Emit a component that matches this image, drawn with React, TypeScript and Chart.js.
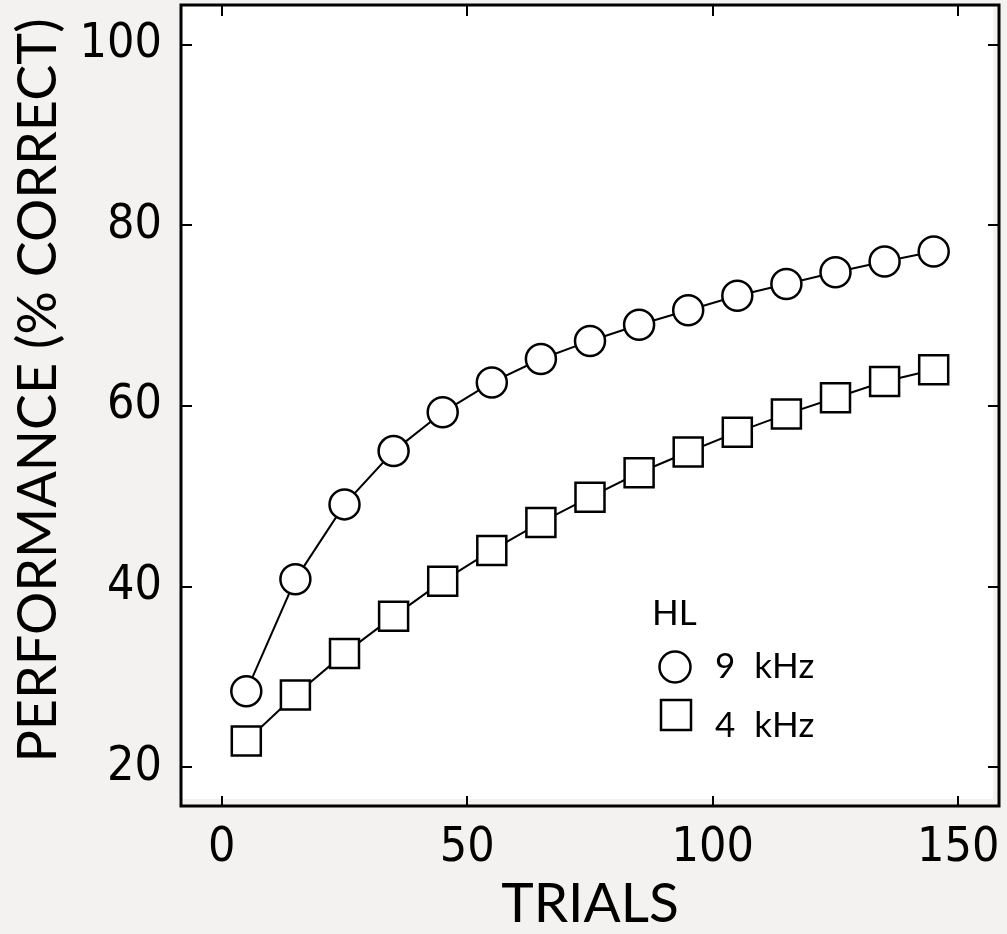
import React, { useEffect, useRef } from "react";
import { Chart, registerables } from "chart.js";

Chart.register(...registerables);

const trials = [5, 15, 25, 35, 45, 55, 65, 75, 85, 95, 105, 115, 125, 135, 145];
const perf9kHz = [28.4, 40.8, 49.1, 55.0, 59.3, 62.6, 65.2, 67.2, 69.0, 70.6, 72.2, 73.5, 74.8, 76.0, 77.1];
const perf4kHz = [22.9, 28.0, 32.6, 36.7, 40.6, 44.0, 47.1, 49.9, 52.6, 54.9, 57.1, 59.1, 60.9, 62.7, 64.0];
const xTicks = [0, 50, 100, 150];
const yTicks = [20, 40, 60, 80, 100];
const xTitle = "TRIALS";
const yTitle = "PERFORMANCE (% CORRECT)";
const legendTitle = "HL";
const seriesLabels = ["9 kHz", "4 kHz"];

const BG = "#f3f2f0";
const TICK_FONT = "'DejaVu Sans Condensed', 'DejaVu Sans', sans-serif";
const TITLE_FONT = "Lato, 'Open Sans', sans-serif";

const zeroPad = (scale: any) => {
  scale.paddingTop = 0;
  scale.paddingBottom = 0;
  scale.paddingLeft = 0;
  scale.paddingRight = 0;
};

const framePlugin = {
  id: "frame",
  beforeDraw(chart: any) {
    const { ctx, chartArea: a, width, height } = chart;
    ctx.save();
    ctx.fillStyle = BG;
    ctx.fillRect(0, 0, width, height);
    ctx.fillStyle = "#ffffff";
    ctx.fillRect(a.left, a.top, a.right - a.left - 6, a.bottom - a.top - 7);
    ctx.restore();
  },
  beforeDatasetsDraw(chart: any) {
    const { ctx, chartArea: a, scales } = chart;
    ctx.save();
    ctx.strokeStyle = "#000";
    ctx.lineWidth = 2;
    ctx.lineCap = "butt";
    for (const v of xTicks) {
      const px = Math.round(scales.x.getPixelForValue(v));
      ctx.beginPath();
      ctx.moveTo(px, a.bottom);
      ctx.lineTo(px, a.bottom - 10);
      ctx.moveTo(px, a.top);
      ctx.lineTo(px, a.top + 11);
      ctx.stroke();
    }
    for (const v of yTicks) {
      const py = Math.round(scales.y.getPixelForValue(v));
      ctx.beginPath();
      ctx.moveTo(a.left, py);
      ctx.lineTo(a.left + 11, py);
      ctx.moveTo(a.right, py);
      ctx.lineTo(a.right - 11, py);
      ctx.stroke();
    }
    ctx.lineWidth = 3;
    ctx.beginPath();
    ctx.rect(a.left, a.top, a.right - a.left, a.bottom - a.top);
    ctx.stroke();
    ctx.restore();
  },
  afterDraw(chart: any) {
    const { ctx, chartArea: a } = chart;
    // y-axis title
    ctx.save();
    ctx.fillStyle = "#000";
    ctx.font = `54px ${TITLE_FONT}`;
    ctx.textAlign = "center";
    ctx.textBaseline = "middle";
    ctx.translate(39, (a.top + a.bottom) / 2 - 15);
    ctx.rotate(-Math.PI / 2);
    ctx.fillText(yTitle, 0, 0);
    ctx.restore();

    // legend
    const lx = a.left + 471;
    const ly = a.top;
    ctx.save();
    ctx.fillStyle = "#000";
    ctx.textBaseline = "alphabetic";
    ctx.textAlign = "left";
    ctx.font = `35px ${TITLE_FONT}`;
    (ctx as any).wordSpacing = "10px";
    ctx.fillText(legendTitle, lx, ly + 620);
    ctx.fillText(seriesLabels[0], lx + 63, ly + 673);
    ctx.fillText(seriesLabels[1], lx + 63, ly + 732);
    ctx.strokeStyle = "#000";
    ctx.lineWidth = 2.5;
    ctx.fillStyle = "#fff";
    ctx.beginPath();
    ctx.arc(lx + 23, ly + 662, 15.5, 0, Math.PI * 2);
    ctx.fill();
    ctx.stroke();
    ctx.beginPath();
    ctx.rect(lx + 9, ly + 695, 30, 30);
    ctx.fill();
    ctx.stroke();
    ctx.restore();
  },
};

export default function App() {
  const ref = useRef<HTMLCanvasElement | null>(null);

  useEffect(() => {
    document.body.style.margin = "0";
    document.body.style.background = BG;
    const canvas = ref.current;
    if (!canvas) return;
    const chart = new Chart(canvas, {
      type: "line",
      data: {
        datasets: [
          {
            label: seriesLabels[0],
            data: trials.map((t, i) => ({ x: t, y: perf9kHz[i] })),
            borderColor: "#000",
            borderWidth: 2,
            pointStyle: "circle",
            pointRadius: 15,
            pointBorderWidth: 2.5,
            pointBackgroundColor: "#fff",
            pointBorderColor: "#000",
            tension: 0,
          },
          {
            label: seriesLabels[1],
            data: trials.map((t, i) => ({ x: t, y: perf4kHz[i] })),
            borderColor: "#000",
            borderWidth: 2,
            pointStyle: "rect",
            pointRadius: 20.5,
            pointBorderWidth: 2.5,
            pointBackgroundColor: "#fff",
            pointBorderColor: "#000",
            tension: 0,
          },
        ],
      },
      options: {
        animation: false,
        responsive: false,
        maintainAspectRatio: false,
        layout: { autoPadding: false, padding: { top: 5, right: 8, left: 0, bottom: 0 } },
        plugins: {
          legend: { display: false },
          tooltip: { enabled: false },
        },
        scales: {
          x: {
            type: "linear",
            min: -8.3,
            max: 158.3,
            afterBuildTicks: (scale: any) => {
              scale.ticks = xTicks.map((v) => ({ value: v }));
            },
            afterFit: (scale: any) => {
              scale.height = 128;
              zeroPad(scale);
            },
            grid: { display: false, drawTicks: false },
            border: { display: false },
            ticks: {
              color: "#000",
              font: { family: TICK_FONT, size: 48 },
              padding: 14,
              maxRotation: 0,
              autoSkip: false,
            },
            title: {
              display: true,
              text: xTitle,
              color: "#000",
              font: { family: TITLE_FONT, size: 55, lineHeight: 1 },
              padding: { top: 0, bottom: 2 },
            },
          },
          y: {
            type: "linear",
            min: 15.7,
            max: 104.4,
            afterBuildTicks: (scale: any) => {
              scale.ticks = yTicks.map((v) => ({ value: v }));
            },
            afterFit: (scale: any) => {
              scale.width = 181;
              zeroPad(scale);
            },
            grid: { display: false, drawTicks: false },
            border: { display: false },
            ticks: {
              color: "#000",
              font: { family: TICK_FONT, size: 48 },
              padding: 19,
              autoSkip: false,
            },
            title: { display: false, text: yTitle },
          },
        },
      },
      plugins: [framePlugin],
    });
    return () => chart.destroy();
  }, []);

  return (
    <div style={{ width: 1007, height: 934, background: BG }}>
      <canvas ref={ref} width={1007} height={934} style={{ display: "block" }} />
    </div>
  );
}
